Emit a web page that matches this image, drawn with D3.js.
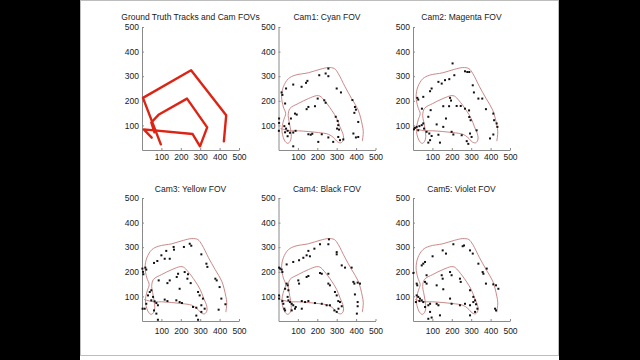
<!DOCTYPE html>
<html><head><meta charset="utf-8">
<script src="https://cdn.jsdelivr.net/npm/d3@7"></script>
<style>html,body{margin:0;padding:0;background:#000;} svg{display:block;}</style>
</head><body><svg id="c" width="640" height="360"></svg>
<script>
// ---------- data ----------
const panelTitles = ["Ground Truth Tracks and Cam FOVs","Cam1: Cyan FOV","Cam2: Magenta FOV","Cam3: Yellow FOV","Cam4: Black FOV","Cam5: Violet FOV"];
const tickValues = [100,200,300,400,500];
const axisDomain = [0,500];

// ground-truth tracks
const track1 = [[422,35],[434,141],[253,324],[5,212],[97,23]];
const track2 = [[50,50],[9,84],[261,65],[299,15],[336,92],[232,209],[85,143],[48,112],[64,72]];

// FOV contour (shared by the camera panels)
const fovContour = [[432,36],[437,74],[432,101],[411,162],[377,209],[343,257],[308,311],[288,331],[257,335],[214,328],[154,314],[85,304],[51,290],[25,257],[16,216],[25,175],[37,148],
  [28,125],[20,100],[18,75],[25,50],[36,33],[48,27],[60,35],[66,55],[62,85],[55,115],[50,140],[59,169],
  [102,189],[154,209],[197,221],[214,219],[236,202],[274,162],[300,128],[317,94],[334,60],[334,40],[322,29],[305,33],[283,51],[257,64],[205,71],[154,75],[102,78],[68,78],[45,80],[25,84],[10,88]];

// detections per camera
const cam1Dots = [[257,331],[243,311],[257,300],[210,304],[149,281],[142,273],[76,266],[119,257],[16,234],[20,224],[39,250],[300,250],[322,234],[381,203],[394,175],[399,164],[391,151],[411,114],[386,67],[399,51],[34,189],[202,209],[236,202],[243,192],[154,175],[145,166],[188,178],[85,148],[94,144],[295,135],[305,118],[308,101],[302,87],[312,83],[3,128],[3,110],[30,97],[39,87],[47,78],[34,72],[59,70],[76,71],[88,78],[154,64],[166,62],[174,66],[223,64],[257,51],[205,33],[308,53],[317,40],[334,43],[76,15],[2,78],[47,56],[54,107],[64,128],[282,33],[411,53]];
const cam2Dots = [[204,352],[268,320],[280,317],[290,317],[213,304],[187,288],[165,284],[148,270],[131,277],[96,250],[88,239],[22,212],[27,205],[53,216],[308,263],[314,234],[337,209],[357,209],[376,166],[414,148],[418,121],[431,108],[435,94],[414,63],[397,47],[191,212],[196,201],[156,178],[186,178],[225,179],[246,179],[268,168],[289,161],[290,134],[297,121],[79,135],[91,162],[46,168],[170,128],[122,104],[156,94],[19,94],[33,97],[45,101],[53,108],[57,87],[27,80],[70,74],[84,67],[96,57],[88,40],[79,30],[131,62],[139,30],[199,74],[208,63],[251,60],[294,67],[302,53],[277,36],[285,25],[328,80],[5,84],[10,90]];
const cam3Dots = [[216,301],[246,314],[254,306],[163,301],[165,290],[125,285],[100,267],[117,253],[143,253],[79,244],[62,236],[17,217],[22,209],[7,190],[306,271],[332,233],[337,220],[378,172],[385,165],[400,138],[409,91],[395,46],[430,68],[186,192],[179,179],[220,199],[237,190],[234,172],[251,154],[143,165],[131,154],[86,165],[194,131],[289,118],[297,104],[314,91],[306,64],[323,50],[306,37],[40,118],[48,125],[31,104],[57,98],[48,84],[65,80],[22,70],[14,50],[74,73],[82,64],[62,43],[74,30],[117,87],[131,81],[177,84],[194,77],[206,73],[263,57],[280,54],[82,5],[289,5],[280,22],[2,213],[5,200],[3,50]];
const cam4Dots = [[260,332],[257,312],[214,312],[185,294],[154,285],[145,267],[162,263],[128,257],[106,247],[76,240],[42,230],[300,280],[300,271],[326,226],[343,217],[377,217],[386,159],[391,152],[408,156],[420,152],[394,108],[408,77],[408,60],[404,30],[3,217],[8,213],[16,209],[20,199],[42,152],[47,145],[34,131],[51,125],[154,183],[145,179],[214,195],[223,192],[257,192],[257,152],[265,145],[291,118],[300,104],[308,81],[317,77],[326,60],[309,50],[300,37],[288,43],[102,165],[106,152],[3,104],[3,91],[20,81],[25,70],[47,98],[51,84],[59,77],[68,70],[76,64],[89,57],[30,50],[34,43],[120,81],[137,77],[154,81],[188,73],[223,70],[248,64],[265,64],[68,43],[85,50],[120,50]];
const cam5Dots = [[208,312],[256,304],[263,307],[153,287],[170,274],[101,263],[53,233],[45,226],[62,240],[294,287],[308,274],[337,233],[359,199],[363,192],[376,152],[380,213],[414,149],[428,145],[440,131],[423,50],[428,43],[2,195],[19,152],[22,145],[62,159],[70,152],[148,186],[153,172],[191,199],[199,186],[242,172],[246,159],[294,125],[311,98],[320,84],[325,68],[332,50],[156,129],[122,145],[70,186],[19,104],[27,98],[36,91],[33,81],[45,84],[53,77],[15,77],[62,57],[79,64],[88,70],[122,70],[131,64],[191,91],[199,70],[242,64],[268,70],[294,64],[311,77],[320,37],[294,23],[139,23],[79,9],[96,14],[88,37]];
const camDots = [cam1Dots, cam2Dots, cam3Dots, cam4Dots, cam5Dots];

// ---------- layout ----------
const W = 640, H = 360;
const colX = [142, 278.5, 413];
const axW = 97, axH = 123;
const rows = [{y0:150, titleY:19.5, xPad:3.8}, {y0:321, titleY:191.5, xPad:6.8}];
const font = "'Liberation Sans', Arial, Helvetica, sans-serif";
const textCol = "#1a1a1a", axisCol = "#8a8a8a";

const svg = d3.select("#c");
svg.append("rect").attr("x",0).attr("y",0).attr("width",W).attr("height",H).attr("fill","#000");
svg.append("rect").attr("x",80).attr("y",0).attr("width",479).attr("height",H).attr("fill","#fff");
svg.append("path").attr("d","M80.5,0V356M80,0.5H559M80,355.5H559M558.5,0V356")
  .attr("stroke","#bdbdbd").attr("fill","none").attr("stroke-width",1);

panelTitles.forEach((title, i) => {
  const row = rows[Math.floor(i/3)];
  const x0 = colX[i%3];
  const x = d3.scaleLinear().domain(axisDomain).range([x0, x0+axW]);
  const y = d3.scaleLinear().domain(axisDomain).range([row.y0, row.y0-axH]);
  const g = svg.append("g");

  const xa = d3.axisBottom(x).tickValues(tickValues).tickSizeInner(-2).tickSizeOuter(0).tickPadding(row.xPad);
  const ya = d3.axisLeft(y).tickValues(tickValues).tickSizeInner(-2).tickSizeOuter(0).tickPadding(3);
  const gx = g.append("g").attr("transform",`translate(0,${row.y0})`).call(xa);
  const gy = g.append("g").attr("transform",`translate(${x0},0)`).call(ya);
  [gx, gy].forEach(a => {
    a.select(".domain").attr("stroke",axisCol);
    a.selectAll(".tick line").attr("stroke",axisCol);
    a.selectAll("text").attr("fill",textCol).style("font-family",font).style("font-size","8.5px");
  });

  g.append("text").attr("x",x0+axW/2).attr("y",row.titleY).attr("text-anchor","middle")
    .attr("fill",textCol).style("font-family",font).style("font-size","8.5px").text(title);

  const line = d3.line().x(d=>x(d[0])).y(d=>y(d[1]));
  if (i === 0) {
    [track1, track2].forEach(t => {
      g.append("path").attr("d",line(t)).attr("fill","none").attr("stroke","#dd2414")
        .attr("stroke-width",2.4).attr("stroke-linejoin","round").attr("stroke-linecap","round");
    });
  } else {
    g.append("path").attr("d",line.curve(d3.curveCatmullRom)(fovContour)).attr("fill","none")
      .attr("stroke","#c47c7c").attr("stroke-width",0.9);
    g.selectAll("rect.dot").data(camDots[i-1]).enter().append("rect").attr("class","dot")
      .attr("x",d=>x(d[0])-1).attr("y",d=>y(d[1])-1).attr("width",2).attr("height",2).attr("fill","#111");
  }
});
</script></body></html>
